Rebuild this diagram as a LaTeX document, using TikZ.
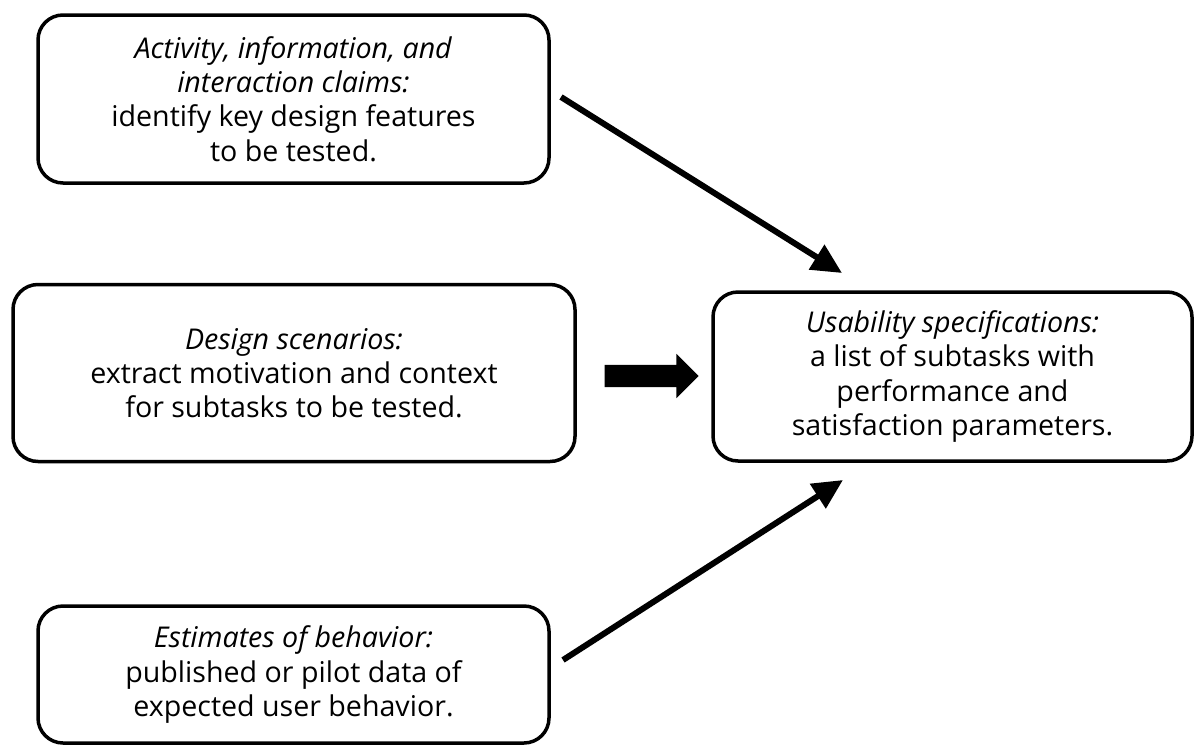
\documentclass[tikz,border=0pt]{standalone}
\usepackage{fontspec}
\setmainfont{Open Sans}
\usetikzlibrary{arrows.meta,shapes.arrows}
\begin{document}
\begin{tikzpicture}[x=1pt,y=-1pt,
  box/.style={draw, line width=3.5pt, rounded corners=25pt, align=center,
    font=\fontsize{28.6}{34.3}\selectfont, inner sep=0pt},
  conn/.style={line width=6pt, -{Triangle[length=30pt,width=28pt]}},
  blockarrow/.style={single arrow, fill=black, draw=none, inner xsep=0pt, inner ysep=11pt,
    minimum height=94pt, single arrow head extend=11pt, single arrow head indent=0pt}]
\useasboundingbox (0,0) rectangle (1194,745);
\node[box, minimum width=511pt, minimum height=168pt] (claims) at (293.5,99)
  {\textit{Activity, information, and}\\ \textit{interaction claims:}\\ identify key design features\\ to be tested.};
\node[box, minimum width=562pt, minimum height=177pt] (scen) at (294,373)
  {\textit{Design scenarios:}\\ extract motivation and context\\ for subtasks to be tested.};
\node[box, minimum width=511pt, minimum height=137pt] (est) at (293.5,674.5)
  {\textit{Estimates of behavior:}\\ published or pilot data of\\ expected user behavior.};
\node[box, minimum width=479pt, minimum height=169pt] (spec) at (952.5,376.5)
  {\textit{Usability specifications:}\\ a list of subtasks with\\ performance and\\ satisfaction parameters.};
\node[blockarrow] (big) at (646,376) {};
\coordinate (a1s) at (561,97);
\coordinate (a1e) at (842,273);
\coordinate (a2s) at (563,660);
\coordinate (a2e) at (843,480);
\draw[conn] (a1s) -- (a1e);
\draw[conn] (a2s) -- (a2e);
\end{tikzpicture}
\end{document}
